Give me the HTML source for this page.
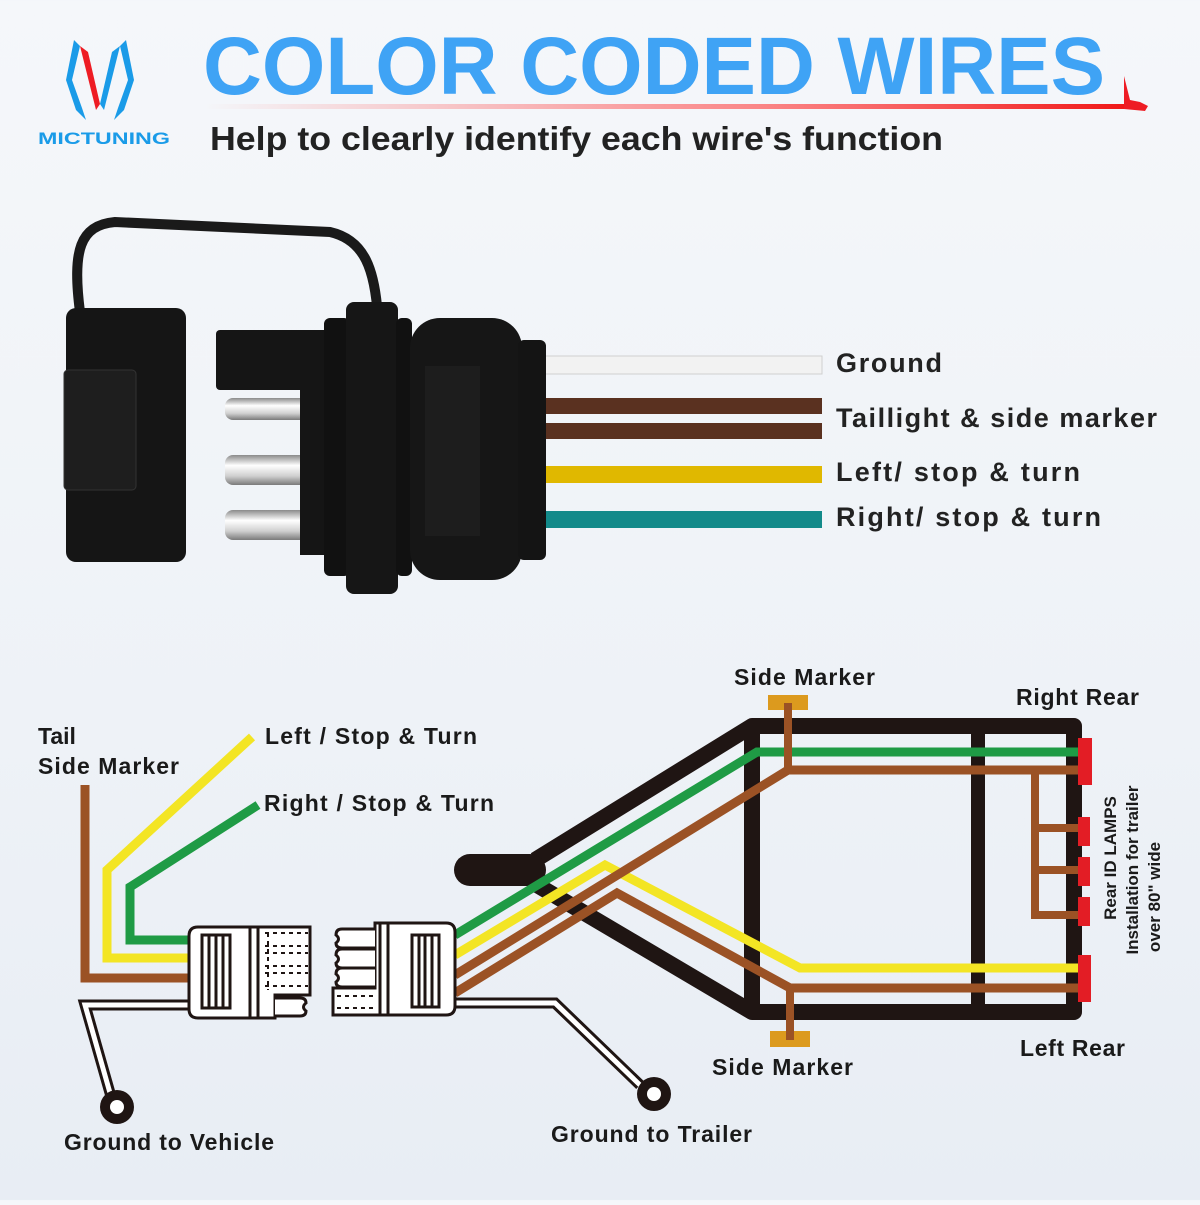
<!DOCTYPE html>
<html><head><meta charset="utf-8"><style>
html,body{margin:0;padding:0}
body{width:1200px;height:1200px;overflow:hidden;background:linear-gradient(#f5f7fa,#eef2f7 60%,#e8edf4);font-family:"Liberation Sans",sans-serif}
</style></head><body>
<svg width="1200" height="1200" viewBox="0 0 1200 1200" xmlns="http://www.w3.org/2000/svg" font-family="Liberation Sans, sans-serif">
<defs>
<linearGradient id="ul" x1="0" x2="1"><stop offset="0" stop-color="#ff3b3b" stop-opacity="0"/><stop offset="0.6" stop-color="#ff3b3b" stop-opacity="0.6"/><stop offset="1" stop-color="#f01818"/></linearGradient>
<linearGradient id="metal" x1="0" y1="0" x2="0" y2="1"><stop offset="0" stop-color="#8a8a8a"/><stop offset="0.35" stop-color="#ffffff"/><stop offset="0.7" stop-color="#d0d0d0"/><stop offset="1" stop-color="#7a7a7a"/></linearGradient>
</defs>
<!-- logo -->
<polygon points="74,40 80,46 72,80 82,108 86,120 76,110 66,80" fill="#1a9be8"/>
<polygon points="80,46 88,52 100,104 96,110" fill="#ee1c24"/>
<polygon points="126,40 134,80 124,110 114,120 118,108 128,80 120,46" fill="#1a9be8"/>
<polygon points="120,46 112,52 100,104 104,110" fill="#1a9be8"/>
<text x="38" y="144" font-size="17" font-weight="bold" fill="#1a9be8" textLength="132" lengthAdjust="spacingAndGlyphs">MICTUNING</text>
<!-- title -->
<text x="203" y="94" font-size="82" font-weight="bold" fill="#3fa3f5" textLength="902" lengthAdjust="spacingAndGlyphs">COLOR CODED WIRES</text>
<rect x="205" y="104" width="920" height="5" fill="url(#ul)"/>
<polygon points="1124,76 1130,100 1140,102 1148,106 1145,111 1124,109" fill="#ee1c24"/>
<text x="210" y="150" font-size="33" font-weight="bold" fill="#222" textLength="733" lengthAdjust="spacingAndGlyphs">Help to clearly identify each wire's function</text>

<!-- wires top -->
<rect x="540" y="356" width="282" height="18" fill="#f2f2f2" stroke="#d0d0d0"/>
<rect x="540" y="398" width="282" height="16" fill="#5a3120"/>
<rect x="540" y="423" width="282" height="16" fill="#5a3120"/>
<rect x="540" y="466" width="282" height="17" fill="#e0b800"/>
<rect x="540" y="511" width="282" height="17" fill="#138a8a"/>
<g font-size="27" font-weight="bold" fill="#222" lengthAdjust="spacingAndGlyphs">
<text x="836" y="372" textLength="106">Ground</text>
<text x="836" y="427" textLength="321">Taillight &amp; side marker</text>
<text x="836" y="481" textLength="244">Left/ stop &amp; turn</text>
<text x="836" y="526" textLength="265">Right/ stop &amp; turn</text>
</g>
<!-- connector photo -->
<path d="M80,312 C72,250 80,225 115,222 L330,232 C365,240 375,270 378,318" fill="none" stroke="#1a1a1a" stroke-width="10"/>
<rect x="66" y="308" width="120" height="254" rx="10" fill="#151515"/>
<rect x="64" y="370" width="72" height="120" rx="4" fill="#1e1e1e" stroke="#333"/>
<rect x="216" y="330" width="112" height="60" rx="4" fill="#151515"/>
<rect x="225" y="398" width="85" height="22" rx="8" fill="url(#metal)"/>
<rect x="225" y="455" width="85" height="30" rx="8" fill="url(#metal)"/>
<rect x="225" y="510" width="85" height="30" rx="8" fill="url(#metal)"/>
<rect x="300" y="390" width="30" height="165" fill="#151515"/>
<rect x="324" y="318" width="26" height="258" rx="6" fill="#111"/>
<rect x="346" y="302" width="52" height="292" rx="8" fill="#161616"/>
<rect x="396" y="318" width="16" height="258" rx="6" fill="#111"/>
<rect x="410" y="318" width="112" height="262" rx="30" fill="#161616"/>
<rect x="425" y="366" width="55" height="170" fill="#1d1d1d"/>
<rect x="518" y="340" width="28" height="220" rx="6" fill="#141414"/>

<!-- lower diagram -->
<g stroke-linecap="butt" fill="none">
<path d="M535,860 L752,726 L1074,726 L1074,1012 L752,1012 L537,885" stroke="#1f1513" stroke-width="16" stroke-linejoin="round"/>
<line x1="752" y1="726" x2="752" y2="1012" stroke="#1f1513" stroke-width="16"/>
<line x1="978" y1="726" x2="978" y2="1012" stroke="#1f1513" stroke-width="14"/>
<line x1="470" y1="870" x2="530" y2="870" stroke="#1f1513" stroke-width="32" stroke-linecap="round"/>
<polyline points="455,935 757,752 1085,752" stroke="#1f9b45" stroke-width="9"/>
<polyline points="455,955 605,865 800,968 1085,968" stroke="#f3e524" stroke-width="9"/>
<polyline points="455,975 788,770 1085,770" stroke="#9b5225" stroke-width="9"/>
<polyline points="455,993 617,893 790,988 1085,988" stroke="#9b5225" stroke-width="9"/>
<line x1="788" y1="703" x2="788" y2="770" stroke="#9b5225" stroke-width="8"/>
<line x1="790" y1="988" x2="790" y2="1040" stroke="#9b5225" stroke-width="8"/>
<polyline points="1085,828 1035,828 1035,915 1085,915" stroke="#9b5225" stroke-width="8"/>
<line x1="1035" y1="870" x2="1085" y2="870" stroke="#9b5225" stroke-width="8"/>
<line x1="1035" y1="770" x2="1035" y2="830" stroke="#9b5225" stroke-width="8"/>
<polyline points="85,785 85,978 190,978" stroke="#9b5225" stroke-width="9"/>
<polyline points="252,737 107,870 107,958 190,958" stroke="#f3e524" stroke-width="9"/>
<polyline points="258,805 130,887 130,940 190,940" stroke="#1f9b45" stroke-width="9"/>
<polyline points="190,1005 85,1005 112,1100" stroke="#1f1513" stroke-width="11" stroke-linejoin="miter"/>
<polyline points="190,1005 85,1005 112,1100" stroke="#fff" stroke-width="5"/>
<polyline points="455,1003 555,1003 640,1085" stroke="#1f1513" stroke-width="11"/>
<polyline points="455,1003 555,1003 640,1085" stroke="#fff" stroke-width="5"/>
</g>
<circle cx="117" cy="1107" r="17" fill="#1f1513"/><circle cx="117" cy="1107" r="7" fill="#fff"/>
<circle cx="654" cy="1094" r="17" fill="#1f1513"/><circle cx="654" cy="1094" r="7" fill="#fff"/>
<rect x="768" y="695" width="40" height="15" fill="#dc9a1e"/>
<rect x="770" y="1031" width="40" height="16" fill="#dc9a1e"/>
<line x1="788" y1="703" x2="788" y2="725" stroke="#9b5225" stroke-width="8"/>
<line x1="790" y1="1030" x2="790" y2="1040" stroke="#9b5225" stroke-width="8"/>
<rect x="1078" y="738" width="14" height="47" fill="#e31d25"/>
<rect x="1078" y="817" width="12" height="29" fill="#e31d25"/>
<rect x="1078" y="857" width="12" height="29" fill="#e31d25"/>
<rect x="1078" y="897" width="12" height="29" fill="#e31d25"/>
<rect x="1078" y="955" width="13" height="47" fill="#e31d25"/>
<g stroke="#1f1513" stroke-width="3" fill="#fff">
<path d="M198,927 L310,927 L310,995 L275,995 L275,1018 L198,1018 Q189,1018 189,1009 L189,936 Q189,927 198,927 Z"/>
<rect x="202" y="935" width="28" height="73"/>
<line x1="209" y1="935" x2="209" y2="1008"/><line x1="216" y1="935" x2="216" y2="1008"/><line x1="223" y1="935" x2="223" y2="1008"/>
<line x1="250" y1="927" x2="250" y2="1018"/><line x1="258" y1="927" x2="258" y2="1018"/>
<path d="M275,998 L300,998 Q306,998 306,1003 Q301,1007 306,1011 Q306,1016 300,1016 L275,1016"/>
</g>
<g stroke="#1f1513" stroke-width="2" stroke-dasharray="4,4" fill="none">
<line x1="265" y1="933" x2="308" y2="933"/><line x1="265" y1="946" x2="308" y2="946"/><line x1="265" y1="953" x2="308" y2="953"/><line x1="265" y1="966" x2="308" y2="966"/><line x1="265" y1="973" x2="308" y2="973"/><line x1="265" y1="986" x2="308" y2="986"/><line x1="268" y1="933" x2="268" y2="990"/>
</g>
<g stroke="#1f1513" stroke-width="3" fill="#fff">
<path d="M375,923 L446,923 Q455,923 455,932 L455,1006 Q455,1015 446,1015 L333,1015 L333,988 L375,988 Z"/>
<rect x="412" y="935" width="27" height="72"/>
<line x1="419" y1="935" x2="419" y2="1007"/><line x1="425" y1="935" x2="425" y2="1007"/><line x1="432" y1="935" x2="432" y2="1007"/>
<line x1="380" y1="923" x2="380" y2="1015"/><line x1="388" y1="923" x2="388" y2="1015"/>
<path d="M375,929 L342,929 Q336,929 336,935 Q341,939 336,943 Q336,948 342,948 L375,948"/>
<path d="M375,949 L342,949 Q336,949 336,955 Q341,959 336,963 Q336,968 342,968 L375,968"/>
<path d="M375,968 L342,968 Q336,968 336,974 Q341,978 336,982 Q336,987 342,987 L375,987"/>
</g>
<g stroke="#1f1513" stroke-width="2" stroke-dasharray="4,4" fill="none"><line x1="337" y1="996" x2="373" y2="996"/><line x1="337" y1="1008" x2="373" y2="1008"/></g>
<g font-size="23" font-weight="bold" fill="#1a1a1a" lengthAdjust="spacingAndGlyphs">
<text x="38" y="744">Tail</text>
<text x="38" y="774" textLength="141">Side Marker</text>
<text x="265" y="744" textLength="212">Left / Stop &amp; Turn</text>
<text x="264" y="811" textLength="230">Right / Stop &amp; Turn</text>
<text x="64" y="1150" textLength="210">Ground to Vehicle</text>
<text x="551" y="1142" textLength="201">Ground to Trailer</text>
<text x="734" y="685" textLength="141">Side Marker</text>
<text x="1016" y="705" textLength="123">Right Rear</text>
<text x="712" y="1075" textLength="141">Side Marker</text>
<text x="1020" y="1056" textLength="105">Left Rear</text>
</g>
<g font-size="17" font-weight="bold" fill="#1a1a1a" text-anchor="middle">
<text transform="translate(1116,858) rotate(-90)">Rear ID LAMPS</text>
<text transform="translate(1138,870) rotate(-90)">Installation for trailer</text>
<text transform="translate(1160,897) rotate(-90)">over 80" wide</text>
</g>
</svg>
</body></html>
